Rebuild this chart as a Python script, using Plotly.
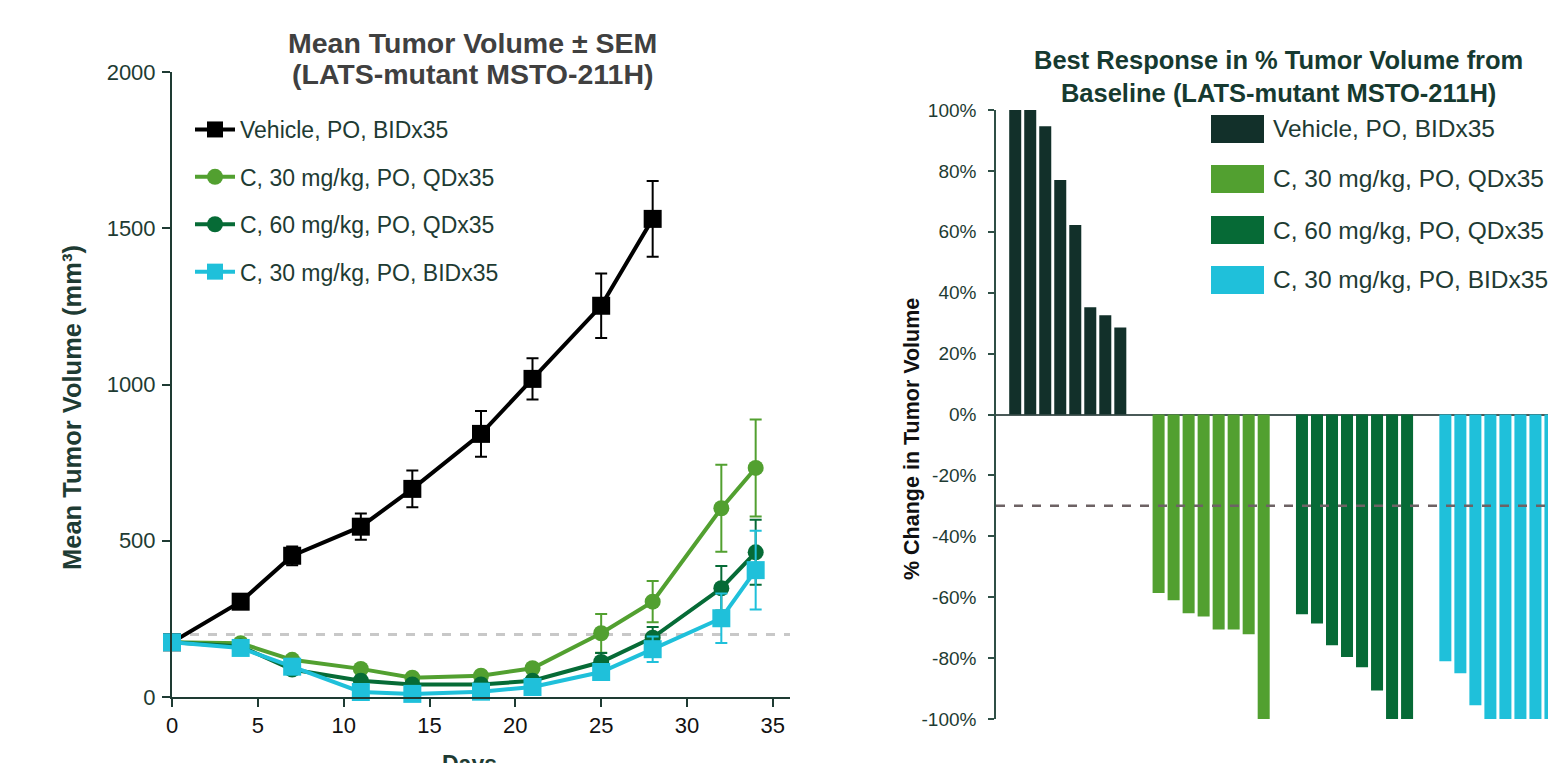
import plotly.graph_objects as go

# ---------------- data: left chart (mean tumor volume ± SEM) ----------------
days = [0, 4, 7, 11, 14, 18, 21, 25, 28, 32, 34]
days_vehicle = [0, 4, 7, 11, 14, 18, 21, 25, 28]

series_names = [
    "Vehicle, PO, BIDx35",
    "C, 30 mg/kg, PO, QDx35",
    "C, 60 mg/kg, PO, QDx35",
    "C, 30 mg/kg, PO, BIDx35",
]

vehicle_mean = [175, 305, 452, 545, 666, 842, 1018, 1252, 1530]
vehicle_sem = [0, 15, 30, 42, 59, 73, 66, 103, 121]

c30qd_mean = [175, 172, 119, 90, 62, 68, 92, 204, 305, 604, 733]
c30qd_sem = [0, 6, 8, 8, 6, 8, 12, 62, 66, 139, 155]

c60qd_mean = [175, 162, 88, 52, 40, 40, 52, 112, 190, 348, 463]
c60qd_sem = [0, 5, 6, 5, 4, 5, 8, 29, 34, 71, 104]

c30bid_mean = [175, 157, 97, 16, 10, 17, 32, 80, 153, 252, 406]
c30bid_sem = [0, 5, 6, 4, 3, 4, 8, 15, 41, 79, 126]

threshold_volume = 200
vol_ticks = [0, 500, 1000, 1500, 2000]
day_ticks = [0, 5, 10, 15, 20, 25, 30, 35]

# ---------------- data: right chart (best response waterfall) ----------------
vehicle_resp = [100, 100, 94.7, 77, 62.2, 35.2, 32.6, 28.6]
c30qd_resp = [-58.6, -61, -65.3, -66.3, -70.6, -70.6, -72.2, -100]
c60qd_resp = [-65.6, -68.6, -75.8, -79.6, -83, -90.6, -100, -100]
c30bid_resp = [-81, -85, -95.5, -100, -100, -100, -100, -100]
threshold_resp = -30
resp_ticks = [-100, -80, -60, -40, -20, 0, 20, 40, 60, 80, 100]
resp_tick_labels = ["%d%%" % v for v in resp_ticks]

left_title_lines = ["Mean Tumor Volume ± SEM", "(LATS-mutant MSTO-211H)"]
right_title = "Best Response in % Tumor Volume from<br>Baseline (LATS-mutant MSTO-211H)"

line_colors = ["#000000", "#52a030", "#066b36", "#1fc0da"]
bar_colors = ["#12302a", "#52a030", "#066a36", "#1fc0da"]
marker_symbols = ["square", "circle", "circle", "square"]
marker_sizes = [18, 16, 16, 18]

TXT = "#1e3b33"
FONT = "Liberation Sans, Arial, sans-serif"

# page body has an 8px margin; the figure fills the rest of the window
OFF = 8
W, H = 1556 - OFF, 763 - OFF


def px(x):  # screen x -> paper x
    return (x - OFF) / W


def py(y):  # screen y -> paper y
    return 1 - (y - OFF) / H


fig = go.Figure()

# ---- left: line traces ----
left_x = [days_vehicle, days, days, days]
left_y = [vehicle_mean, c30qd_mean, c60qd_mean, c30bid_mean]
left_e = [vehicle_sem, c30qd_sem, c60qd_sem, c30bid_sem]
for i in range(4):
    fig.add_trace(go.Scatter(
        x=left_x[i], y=left_y[i], name=series_names[i],
        mode="lines+markers",
        line=dict(color=line_colors[i], width=4),
        marker=dict(symbol=marker_symbols[i], size=marker_sizes[i], color=line_colors[i]),
        error_y=dict(type="data", array=left_e[i], color=line_colors[i], thickness=2, width=6),
        xaxis="x", yaxis="y", cliponaxis=False,
        legendgroup="g%d" % i, legend="legend",
    ))

# ---- right: waterfall bars ----
group_pitch = 9.55
resp_groups = [vehicle_resp, c30qd_resp, c60qd_resp, c30bid_resp]
for g, vals in enumerate(resp_groups):
    xs = [g * group_pitch + k for k in range(len(vals))]
    fig.add_trace(go.Bar(
        x=xs, y=vals, width=0.8, name=series_names[g],
        marker=dict(color=bar_colors[g], line=dict(width=0)),
        xaxis="x2", yaxis="y2", showlegend=False,
    ))

# threshold lines
fig.add_shape(type="line", xref="x domain", yref="y", x0=0, x1=1,
              y0=threshold_volume, y1=threshold_volume, layer="below",
              line=dict(color="#c8c8c8", width=3, dash="dash"))
fig.add_shape(type="line", xref="x2 domain", yref="y2", x0=0, x1=1,
              y0=threshold_resp, y1=threshold_resp, layer="above",
              line=dict(color="#6d6264", width=2.5, dash="dash"))

# right legend (custom large swatches)
row_y = [129, 179, 230, 280]
for i in range(4):
    fig.add_shape(type="rect", xref="paper", yref="paper",
                  x0=px(1211), x1=px(1264),
                  y0=py(row_y[i] + 14), y1=py(row_y[i] - 14),
                  fillcolor=bar_colors[i], line=dict(width=0))
    fig.add_annotation(xref="paper", yref="paper", x=px(1271), y=py(row_y[i]),
                       xanchor="left", yanchor="middle", showarrow=False,
                       text=series_names[i], font=dict(size=24.5, color=TXT, family=FONT))

# titles
for line_text, ly in zip(left_title_lines, [43, 74]):
    fig.add_annotation(xref="paper", yref="paper", x=px(473), y=py(ly),
                       xanchor="center", yanchor="middle", showarrow=False,
                       text="<b>%s</b>" % line_text,
                       font=dict(size=28.5, color="#404040", family=FONT))
fig.add_annotation(xref="paper", yref="paper", x=px(1278), y=py(76),
                   xanchor="center", yanchor="middle", showarrow=False,
                   text="<b>%s</b>" % right_title,
                   font=dict(size=25.5, color="#163a30", family=FONT))

# axis titles
fig.add_annotation(xref="paper", yref="paper", x=px(72), y=py(408),
                   xanchor="center", yanchor="middle", showarrow=False, textangle=-90,
                   text="<b>Mean Tumor Volume (mm³)</b>",
                   font=dict(size=25.5, color=TXT, family=FONT))
fig.add_annotation(xref="paper", yref="paper", x=px(912), y=py(439),
                   xanchor="center", yanchor="middle", showarrow=False, textangle=-90,
                   text="<b>% Change in Tumor Volume</b>",
                   font=dict(size=21.5, color="#111111", family=FONT))
fig.add_annotation(xref="paper", yref="paper", x=px(470), y=py(749),
                   xanchor="center", yanchor="top", showarrow=False,
                   text="<b>Days</b>",
                   font=dict(size=23, color=TXT, family=FONT))

axis_common = dict(showgrid=False, zeroline=False, showline=True, ticks="outside",
                   mirror=False, automargin=False)

fig.update_layout(
    width=W, height=H,
    margin=dict(l=0, r=0, t=0, b=0, autoexpand=False),
    paper_bgcolor="white", plot_bgcolor="white",
    font=dict(family=FONT, color=TXT),
    barmode="overlay",
    xaxis=dict(domain=[px(172), px(790)], range=[0, 36], tickvals=day_ticks,
               linecolor=TXT, linewidth=2, tickcolor=TXT, tickwidth=2, ticklen=8,
               tickfont=dict(size=22, color="#111111"),
               anchor="y", **axis_common),
    yaxis=dict(domain=[py(697), py(72)], range=[0, 2000], tickvals=vol_ticks,
               linecolor=TXT, linewidth=2, tickcolor=TXT, tickwidth=2, ticklen=8,
               tickfont=dict(size=22, color=TXT), ticklabelstandoff=2,
               anchor="x", **axis_common),
    xaxis2=dict(domain=[px(996), 1.0], range=[-1.28, 36.56 - 8 / 14.8], visible=False, anchor="y2",
                automargin=False),
    yaxis2=dict(domain=[py(719), py(110)], range=[-100, 100],
                tickmode="array", tickvals=resp_ticks, ticktext=resp_tick_labels,
                showgrid=False, showline=True, linecolor="#2f4f46", linewidth=1.5,
                ticks="outside", tickcolor="#2f4f46", ticklen=6, tickwidth=1.5,
                zeroline=True, zerolinecolor="#4a5a58", zerolinewidth=2,
                tickfont=dict(size=19, color=TXT), automargin=False, ticklabelstandoff=8,
                anchor="x2"),
    legend=dict(x=px(190), y=py(108), xanchor="left", yanchor="top",
                font=dict(size=23, color=TXT, family=FONT), bgcolor="rgba(0,0,0,0)",
                traceorder="grouped", tracegroupgap=14.5, itemwidth=40),
)

fig.write_html("out.html")
